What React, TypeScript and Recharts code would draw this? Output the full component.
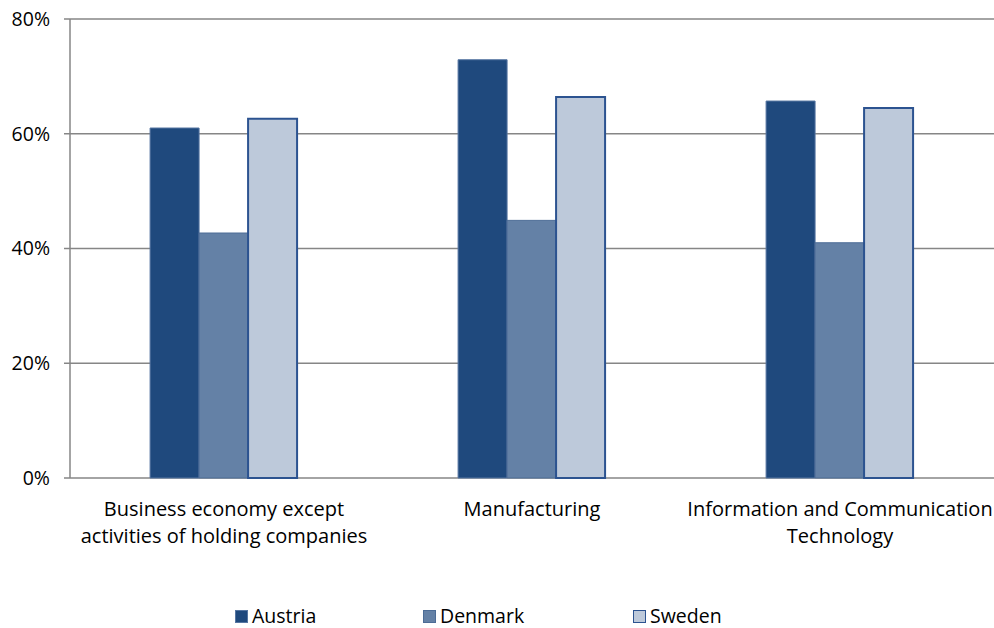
import { BarChart, Bar, XAxis, YAxis, CartesianGrid, Legend } from 'recharts';

const categories = [
  'Business economy except\nactivities of holding companies',
  'Manufacturing',
  'Information and Communication\nTechnology',
];
const austria = [0.61, 0.729, 0.657];
const denmark = [0.427, 0.449, 0.41];
const sweden = [0.626, 0.664, 0.645];
const yTicks = [0, 0.2, 0.4, 0.6, 0.8];

const series = [
  { key: 'Austria', fill: '#1F497D', stroke: '#5676A2', width: 1 },
  { key: 'Denmark', fill: '#6481A6', stroke: '#4C6C96', width: 1 },
  { key: 'Sweden', fill: '#BDC9DA', stroke: '#2C5390', width: 2 },
];

const data = categories.map((name, i) => ({
  name,
  idx: i + 0.5,
  Austria: austria[i],
  Denmark: denmark[i],
  Sweden: sweden[i],
}));

const FONT = '"Open Sans", sans-serif';

const CategoryTick = (props: any) => {
  const { x, y, payload } = props;
  const lines = String(payload.value).split('\n');
  return (
    <text x={x} y={y} textAnchor="middle" fill="#000" fontSize={20} fontFamily={FONT}>
      {lines.map((l, i) => (
        <tspan key={i} x={x} dy={i === 0 ? 30 : 27}>
          {l}
        </tspan>
      ))}
    </text>
  );
};

const LegendContent = () => (
  <div style={{ position: 'relative', height: 22, fontFamily: FONT, fontSize: 19.5, lineHeight: '22px' }}>
    {series.map((s, i) => (
      <div
        key={s.key}
        style={{
          position: 'absolute',
          left: [235, 423, 633][i],
          top: 0,
          height: 22,
          display: 'flex',
          alignItems: 'center',
          whiteSpace: 'nowrap',
        }}
      >
        <span
          style={{
            display: 'inline-block',
            width: 11,
            height: 11,
            background: s.fill,
            border: `1px solid ${s.stroke}`,
            marginRight: 4,
          }}
        />
        <span>{s.key}</span>
      </div>
    ))}
  </div>
);

export default function App() {
  return (
    <div style={{ position: 'absolute', left: 0, top: 0, background: '#fff' }}>
      <BarChart
        width={994}
        height={628}
        data={data}
        margin={{ top: 19, right: 0, bottom: 0, left: 0 }}
        barCategoryGap="26%"
        barGap={0}
      >
        <CartesianGrid vertical={false} stroke="#868686" strokeWidth={1.5} />
        <XAxis
          xAxisId="edge"
          dataKey="idx"
          type="number"
          domain={[0, 3]}
          ticks={[0, 1, 2, 3]}
          height={0}
          tick={false}
          tickLine={{ stroke: '#868686', strokeWidth: 1.5 }}
          tickSize={7}
          axisLine={{ stroke: '#868686', strokeWidth: 1.5 }}
        />
        <XAxis
          dataKey="name"
          height={128}
          tick={<CategoryTick />}
          tickLine={false}
          axisLine={false}
          interval={0}
        />
        <YAxis
          width={70}
          domain={[0, 0.8]}
          ticks={yTicks}
          tickFormatter={(v: number) => `${Math.round(v * 100)}%`}
          tick={{ fill: '#000', fontSize: 19.5, fontFamily: FONT }}
          tickSize={6}
          tickMargin={14}
          tickLine={{ stroke: '#868686', strokeWidth: 1.5 }}
          axisLine={{ stroke: '#868686', strokeWidth: 1.5 }}
        />
        {series.map((s) => (
          <Bar
            key={s.key}
            dataKey={s.key}
            fill={s.fill}
            stroke={s.stroke}
            strokeWidth={s.width}
            isAnimationActive={false}
          />
        ))}
        <Legend verticalAlign="bottom" content={<LegendContent />} wrapperStyle={{ bottom: 1 }} />
      </BarChart>
    </div>
  );
}
